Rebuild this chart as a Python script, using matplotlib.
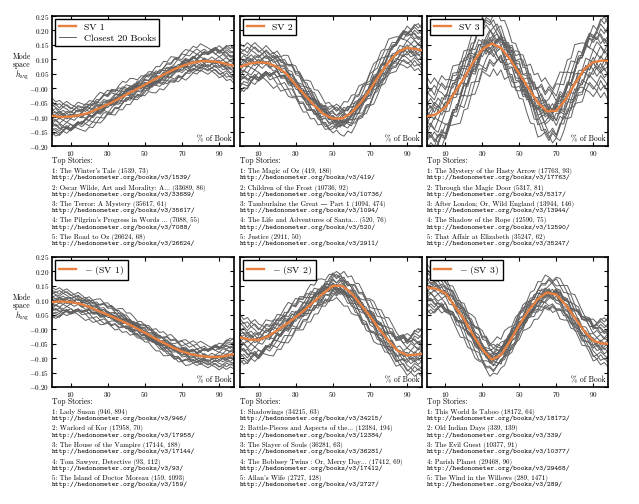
import numpy as np
import matplotlib
matplotlib.use('Agg')
import matplotlib.pyplot as plt
from matplotlib.ticker import FuncFormatter

plt.rcParams['font.family'] = ['cmr10', 'DejaVu Serif']
plt.rcParams['mathtext.fontset'] = 'cm'
plt.rcParams['axes.formatter.use_mathtext'] = True
plt.rcParams['axes.unicode_minus'] = True

# ---- data ----
pct = [0, 5, 10, 15, 20, 25, 30, 35, 40, 45, 50, 55, 60, 65, 70, 75, 80, 85, 90, 95, 98]

sv1 = [-0.095, -0.100, -0.098, -0.093, -0.085, -0.070, -0.056, -0.040, -0.022, -0.005, 0.012,
       0.030, 0.047, 0.063, 0.077, 0.087, 0.093, 0.094, 0.090, 0.082, 0.077]
sv2 = [0.074, 0.085, 0.090, 0.087, 0.074, 0.050, 0.012, -0.025, -0.060, -0.090, -0.105,
       -0.105, -0.085, -0.050, -0.005, 0.045, 0.090, 0.125, 0.140, 0.135, 0.131]
sv3 = [-0.098, -0.090, -0.065, -0.015, 0.035, 0.090, 0.135, 0.155, 0.140, 0.100, 0.050,
       0.000, -0.050, -0.080, -0.078, -0.040, 0.015, 0.065, 0.090, 0.096, 0.095]
neg_sv1 = [0.094, 0.096, 0.094, 0.088, 0.077, 0.063, 0.050, 0.036, 0.021, 0.005, -0.012,
           -0.030, -0.047, -0.063, -0.077, -0.087, -0.093, -0.096, -0.096, -0.090, -0.086]
neg_sv2 = [-0.028, -0.036, -0.037, -0.025, -0.004, 0.018, 0.042, 0.068, 0.097, 0.125, 0.150,
           0.150, 0.125, 0.085, 0.045, 0.000, -0.040, -0.075, -0.090, -0.088, -0.085]
neg_sv3 = [0.145, 0.140, 0.125, 0.080, 0.035, -0.020, -0.070, -0.105, -0.090, -0.040, 0.015,
           0.065, 0.105, 0.127, 0.120, 0.085, 0.040, -0.005, -0.040, -0.050, -0.050]

sv_curves = [sv1, sv2, sv3, neg_sv1, neg_sv2, neg_sv3]
legend_labels = ['SV 1', 'SV 2', 'SV 3', '$-$ (SV 1)', '$-$ (SV 2)', '$-$ (SV 3)']
spread = [0.038, 0.05, 0.085, 0.032, 0.05, 0.05]

# deviation of the closest books from the mode (rough, hand-estimated), x = 0, 2, ..., 98
gray_pct = list(range(0, 100, 2))
dev = [
    [0.9, 1.1, 0.8, 1.2, 1.0, 0.7, 0.9, 0.6, 0.4, 0.7, 0.5, 0.2, 0.4, 0.1, -0.2, 0.0, -0.3, -0.1, -0.4, -0.6,
     -0.3, -0.5, -0.8, -0.6, -0.9, -0.7, -0.4, -0.6, -0.3, -0.5, -0.2, 0.1, -0.1, 0.2, 0.0, 0.3, 0.5, 0.2, 0.4, 0.7,
     0.5, 0.8, 0.6, 0.9, 1.1, 0.8, 1.0, 0.7, 0.9, 0.6],
    [-1.4, -1.1, -1.3, -0.9, -1.0, -0.7, -0.9, -0.6, -0.8, -0.5, -0.3, -0.6, -0.4, -0.2, -0.4, -0.1, 0.1, -0.2, 0.0, 0.3,
     0.1, 0.4, 0.2, 0.5, 0.3, 0.6, 0.8, 0.5, 0.7, 0.4, 0.6, 0.9, 0.7, 1.0, 0.8, 1.1, 0.9, 1.2, 1.0, 0.7,
     0.9, 0.6, 0.8, 1.1, 1.3, 1.0, 1.2, 1.5, 1.3, 1.1],
    [0.2, 0.0, 0.3, 0.1, -0.2, 0.0, 0.3, 0.5, 0.2, 0.4, 0.7, 0.9, 0.6, 0.8, 1.1, 0.9, 1.2, 1.0, 0.7, 0.9,
     0.6, 0.3, 0.5, 0.2, 0.0, -0.3, -0.1, -0.4, -0.2, -0.5, -0.7, -0.4, -0.6, -0.9, -0.7, -1.0, -0.8, -0.5, -0.7, -0.4,
     -0.6, -0.3, -0.5, -0.2, 0.0, -0.3, -0.1, 0.2, 0.0, 0.3],
    [-0.5, -0.3, -0.6, -0.8, -0.5, -0.7, -1.0, -0.8, -1.1, -0.9, -1.2, -1.0, -0.7, -0.9, -0.6, -0.8, -0.5, -0.3, -0.5, -0.2,
     0.0, -0.2, 0.1, -0.1, 0.2, 0.4, 0.2, 0.5, 0.3, 0.6, 0.4, 0.2, 0.4, 0.1, 0.3, 0.0, -0.2, 0.1, -0.1, -0.4,
     -0.2, -0.5, -0.3, -0.6, -0.4, -0.7, -0.9, -0.6, -0.8, -1.0],
    [1.6, 1.3, 1.5, 1.2, 1.4, 1.1, 0.9, 1.2, 1.0, 0.8, 1.1, 0.9, 1.2, 1.4, 1.1, 1.3, 1.0, 0.8, 1.0, 0.7,
     0.9, 0.6, 0.4, 0.6, 0.3, 0.5, 0.2, 0.4, 0.1, -0.1, 0.1, -0.2, 0.0, -0.3, -0.1, -0.4, -0.2, -0.5, -0.3, -0.1,
     -0.4, -0.2, 0.1, -0.1, 0.2, 0.0, -0.3, -0.1, -0.4, -0.2],
    [-0.2, -0.4, -0.1, -0.3, 0.0, 0.2, -0.1, 0.1, -0.2, -0.4, -0.2, -0.5, -0.3, -0.1, -0.3, 0.0, 0.2, 0.0, 0.3, 0.1,
     0.4, 0.6, 0.4, 0.7, 0.5, 0.8, 1.0, 0.8, 1.1, 0.9, 1.2, 1.0, 1.3, 1.1, 0.9, 1.2, 1.4, 1.2, 1.5, 1.3,
     1.6, 1.4, 1.2, 1.0, 1.3, 1.1, 0.9, 1.1, 0.8, 1.0],
    [0.5, 0.7, 0.4, 0.6, 0.3, 0.5, 0.2, 0.0, 0.2, -0.1, 0.1, -0.2, 0.0, 0.3, 0.1, 0.4, 0.2, 0.5, 0.7, 0.5,
     0.3, 0.5, 0.2, 0.4, 0.1, -0.1, -0.3, -0.1, -0.4, -0.2, -0.5, -0.3, -0.6, -0.4, -0.2, -0.4, -0.1, -0.3, 0.0, 0.2,
     0.0, 0.3, 0.1, 0.4, 0.2, 0.5, 0.3, 0.6, 0.4, 0.7],
    [-0.9, -0.7, -1.0, -1.2, -0.9, -1.1, -0.8, -0.6, -0.8, -0.5, -0.7, -0.4, -0.2, -0.4, -0.1, 0.1, -0.1, -0.3, -0.1, -0.4,
     -0.6, -0.4, -0.7, -0.5, -0.8, -1.0, -0.8, -1.1, -1.3, -1.1, -1.4, -1.2, -0.9, -1.1, -0.8, -1.0, -0.7, -0.9, -0.6, -0.8,
     -0.5, -0.7, -0.9, -0.6, -0.8, -1.1, -0.9, -1.2, -1.0, -1.3],
    [0.0, 0.2, 0.4, 0.2, 0.5, 0.3, 0.6, 0.8, 0.6, 0.9, 0.7, 0.5, 0.7, 0.4, 0.6, 0.3, 0.1, 0.3, 0.0, -0.2,
     0.0, -0.3, -0.1, 0.1, -0.1, 0.2, 0.0, 0.3, 0.5, 0.3, 0.6, 0.8, 0.6, 0.9, 0.7, 0.4, 0.6, 0.3, 0.5, 0.2,
     0.0, 0.2, -0.1, 0.1, -0.2, 0.0, -0.3, -0.5, -0.3, -0.6],
    [-1.8, -1.5, -1.7, -1.3, -1.0, -1.2, -0.9, -0.6, -0.8, -0.5, -0.3, -0.5, -0.2, 0.0, -0.2, 0.1, -0.1, 0.2, 0.4, 0.2,
     0.5, 0.3, 0.1, 0.3, 0.0, 0.2, -0.1, -0.3, -0.1, -0.4, -0.2, 0.0, -0.2, 0.1, -0.1, 0.2, 0.4, 0.2, 0.5, 0.3,
     0.6, 0.9, 0.7, 1.0, 1.2, 1.5, 1.3, 1.6, 1.8, 1.5],
]

# top stories under each panel: (title, book id, length)
stories = [
    [("The Winter's Tale", 1539, 73), ("Oscar Wilde, Art and Morality: A...", 33689, 86),
     ("The Terror: A Mystery", 35617, 61), ("The Pilgrim's Progress in Words ...", 7088, 55),
     ("The Road to Oz", 26624, 68)],
    [("The Magic of Oz", 419, 186), ("Children of the Frost", 10736, 92),
     ("Tamburlaine the Great \u2014 Part 1", 1094, 474), ("The Life and Adventures of Santa...", 520, 76),
     ("Justice", 2911, 50)],
    [("The Mystery of the Hasty Arrow", 17763, 93), ("Through the Magic Door", 5317, 81),
     ("After London; Or, Wild England", 13944, 146), ("The Shadow of the Rope", 12590, 75),
     ("That Affair at Elizabeth", 35247, 62)],
    [("Lady Susan", 946, 894), ("Warlord of Kor", 17958, 70),
     ("The House of the Vampire", 17144, 188), ("Tom Sawyer, Detective", 93, 112),
     ("The Island of Doctor Moreau", 159, 1093)],
    [("Shadowings", 34215, 63), ("Battle-Pieces and Aspects of the...", 12384, 194),
     ("The Slayer of Souls", 36281, 63), ("The Bobbsey Twins : Or, Merry Day...", 17412, 69),
     ("Allan's Wife", 2727, 128)],
    [("This World Is Taboo", 18172, 64), ("Old Indian Days", 339, 139),
     ("The Evil Guest", 10377, 91), ("Parish Planet", 29468, 96),
     ("The Wind in the Willows", 289, 1471)],
]

# ---- layout (pixels of a 639x504 figure) ----
W, H = 639, 504
col_x = [(52, 182), (240, 182), (427, 181)]
row_y = [(16, 130), (257, 130)]
text_top = [161, 402]

orange = '#e8803f'
gray = '#606060'

fig = plt.figure(figsize=(W / 100, H / 100), dpi=100)

for k in range(6):
    r, c = divmod(k, 3)
    x0, w = col_x[c]
    y0, h = row_y[r]
    ax = fig.add_axes([x0 / W, 1 - (y0 + h) / H, w / W, h / H])

    base = np.interp(gray_pct, pct, sv_curves[k])
    for j in range(20):
        sign = 1 if j < 10 else -1
        d = np.array(dev[j % 10]) if j < 10 else np.array(dev[j % 10][::-1])
        lab = 'Closest 20 Books' if j == 0 else None
        ax.plot(gray_pct, base + sign * spread[k] * d, color=gray, lw=0.7,
                label=lab, zorder=2)
    ax.plot(pct, sv_curves[k], color=orange, lw=1.7, label=legend_labels[k], zorder=3)

    ax.set_xlim(0, 98)
    ax.set_ylim(-0.20, 0.25)
    ax.set_xticks([10, 30, 50, 70, 90])
    ax.set_yticks(np.arange(-0.20, 0.26, 0.05))
    ax.xaxis.set_major_formatter(FuncFormatter(lambda v, p: f'${v:.0f}$'))
    ax.yaxis.set_major_formatter(FuncFormatter(lambda v, p: f'${v:.2f}$'))
    ax.tick_params(direction='in', top=True, right=True, length=3, width=0.8,
                   labelsize=5.2, pad=2)
    if c != 0:
        ax.set_yticklabels([])
    else:
        ax.set_ylabel('Mode\nspace\n$h_{\\rm avg}$', rotation=0, fontsize=5.5,
                      linespacing=0.9, va='center', ha='center')
        ax.yaxis.set_label_coords(-0.165, 0.61)
    for s in ax.spines.values():
        s.set_linewidth(1.2)
    ax.text(0.985, 0.02, '% of Book', transform=ax.transAxes, ha='right', va='bottom',
            fontsize=5.5)

    handles, labels = ax.get_legend_handles_labels()
    order = [labels.index(legend_labels[k])]
    if k == 0:
        order.append(labels.index('Closest 20 Books'))
    leg = ax.legend([handles[i] for i in order], [labels[i] for i in order],
                    loc='upper left', fontsize=7, fancybox=False, framealpha=1,
                    edgecolor='black', handlelength=1.8, borderpad=0.35,
                    labelspacing=0.25, borderaxespad=0.35)
    leg.get_frame().set_linewidth(1.0)

    # list of top stories below the panel
    tx = x0 / W
    ty = text_top[r]
    fig.text(tx, 1 - ty / H, 'Top Stories:', fontsize=5.5, va='center', ha='left')
    for i, (title, bid, n) in enumerate(stories[k]):
        yy = ty + 10.5 + 16.5 * i
        fig.text(tx, 1 - yy / H, f'{i + 1}: {title} ({bid}, {n})', fontsize=5,
                 va='center', ha='left')
        fig.text(tx, 1 - (yy + 6.5) / H, f'http://hedonometer.org/books/v3/{bid}/',
                 fontsize=5.2, va='center', ha='left', family=['cmtt10', 'DejaVu Sans Mono'])

plt.savefig('out.png', dpi=100)
